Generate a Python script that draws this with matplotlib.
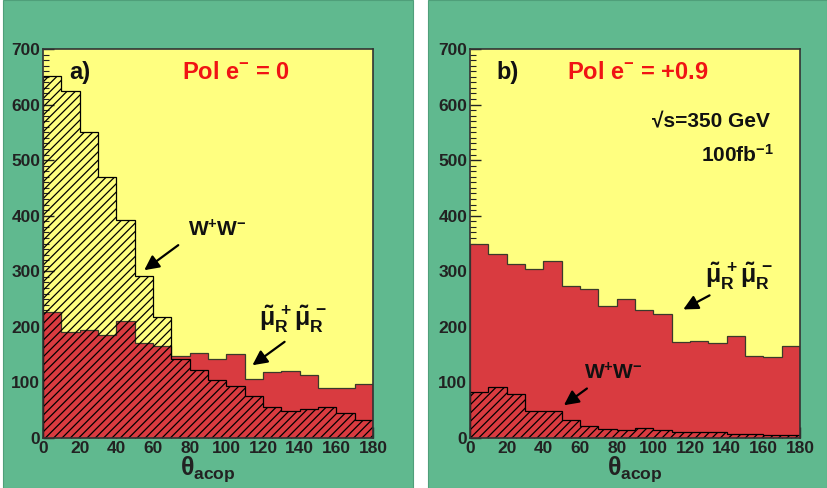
import numpy as np
import matplotlib
matplotlib.use("Agg")
import matplotlib.pyplot as plt
from matplotlib.patches import Rectangle
from matplotlib.ticker import MultipleLocator

plt.rcParams['font.family'] = ['Liberation Sans', 'DejaVu Sans']
plt.rcParams['font.weight'] = 'bold'
plt.rcParams['mathtext.fontset'] = 'custom'
plt.rcParams['mathtext.rm'] = 'Liberation Sans:bold'
plt.rcParams['mathtext.it'] = 'Liberation Sans:bold'
plt.rcParams['mathtext.bf'] = 'Liberation Sans:bold'
plt.rcParams['hatch.linewidth'] = 0.9

# binning in acoplanarity angle (degrees)
edges = np.arange(0, 190, 10)

# panel a) Pol e- = 0
smuon_a = [226, 190, 195, 186, 210, 171, 165, 147, 153, 143, 151, 107, 118, 121, 113, 90, 90, 97]
ww_a = [652, 625, 551, 469, 393, 292, 217, 142, 122, 105, 93, 75, 56, 48, 53, 55, 45, 33]

# panel b) Pol e- = +0.9
smuon_b = [349, 331, 314, 304, 319, 274, 268, 238, 250, 231, 223, 172, 175, 171, 183, 148, 145, 165]
ww_b = [82, 92, 79, 49, 49, 33, 21, 16, 15, 18, 14, 11, 11, 10, 8, 7, 6, 6]

green = "#60b98f"
yellow = "#ffff80"
red = "#d93b40"
W, H = 827, 488

fig = plt.figure(figsize=(W / 100, H / 100), dpi=100, facecolor="white")

# green pads behind each panel
for x0, x1 in [(3, 413), (428, 827)]:
    fig.patches.append(Rectangle((x0 / W, 0), (x1 - x0) / W, 1, transform=fig.transFigure,
                                 facecolor=green, edgecolor="#4f9f7a", lw=0.8, zorder=-5))

smuon_label = r'$\tilde{\mu}^{\,+}_{R}\tilde{\mu}^{\,-}_{R}$'
ww_label = r'W$^{+}$W$^{-}$'


def draw_panel(left, smuon, ww, tag, pol, smu_txt, smu_arrow, ww_txt, ww_arrow):
    ax = fig.add_axes([left / W, 50 / H, 330 / W, 389 / H])
    ax.set_zorder(2)
    ax.set_facecolor(yellow)
    ax.stairs(smuon, edges, fill=True, facecolor=red, edgecolor="none", zorder=2)
    ax.stairs(smuon, edges, color="#3a3a2a", lw=0.9, zorder=3)
    ax.stairs(ww, edges, fill=True, facecolor="none", edgecolor="black", hatch="////", lw=0.9, zorder=4)

    ax.set_xlim(0, 180)
    ax.set_ylim(0, 700)
    ax.xaxis.set_major_locator(MultipleLocator(20))
    ax.xaxis.set_minor_locator(MultipleLocator(5))
    ax.yaxis.set_major_locator(MultipleLocator(100))
    ax.yaxis.set_minor_locator(MultipleLocator(10))
    ax.tick_params(which="both", direction="in", colors="#222222", labelsize=12.5, pad=2)
    ax.tick_params(which="major", length=8, width=1)
    ax.tick_params(which="minor", length=4, width=0.8)
    for lab in ax.get_xticklabels() + ax.get_yticklabels():
        lab.set_fontweight("bold")
    for sp in ax.spines.values():
        sp.set_color("#333333")
        sp.set_linewidth(1.2)
        sp.set_zorder(6)

    ax.set_xlabel(r'$\theta_{acop}$', fontsize=18, labelpad=-1, color="#222222")

    ax.text(14.5, 657, tag, fontsize=17, fontweight="bold", va="center", ha="left", color="#111111")
    ax.text(pol[0], 657, pol[1], fontsize=17, fontweight="bold", va="center", ha="left", color="#f01414")

    ax.text(smu_txt[0], smu_txt[1], smuon_label, fontsize=18, va="center", ha="left", color="#111111")
    ax.annotate("", xy=smu_arrow[1], xytext=smu_arrow[0],
                arrowprops=dict(arrowstyle="-|>", color="black", lw=1.6, mutation_scale=22))
    ax.text(ww_txt[0], ww_txt[1], ww_label, fontsize=15, fontweight="bold", va="center", ha="left",
            color="#111111")
    ax.annotate("", xy=ww_arrow[1], xytext=ww_arrow[0],
                arrowprops=dict(arrowstyle="-|>", color="black", lw=1.6, mutation_scale=22))
    return ax


ax_a = draw_panel(43, smuon_a, ww_a, "a)", (76, r'Pol e$^{-}$ = 0'),
                  (118, 214), ((133, 176), (113, 128)),
                  (79, 374), ((75, 350), (54, 299)))

ax_b = draw_panel(470, smuon_b, ww_b, "b)", (53, r'Pol e$^{-}$ = +0.9'),
                  (128, 291), ((132, 259), (115, 229)),
                  (62, 117), ((65, 92), (50, 56)))

ax_b.text(99, 569, "√s=350 GeV", fontsize=15, fontweight="bold", va="center", ha="left",
          color="#111111")
ax_b.text(126, 509, r'100fb$^{-1}$', fontsize=15, fontweight="bold", va="center", ha="left",
          color="#111111")

plt.savefig("out.png", dpi=100, facecolor=fig.get_facecolor())
